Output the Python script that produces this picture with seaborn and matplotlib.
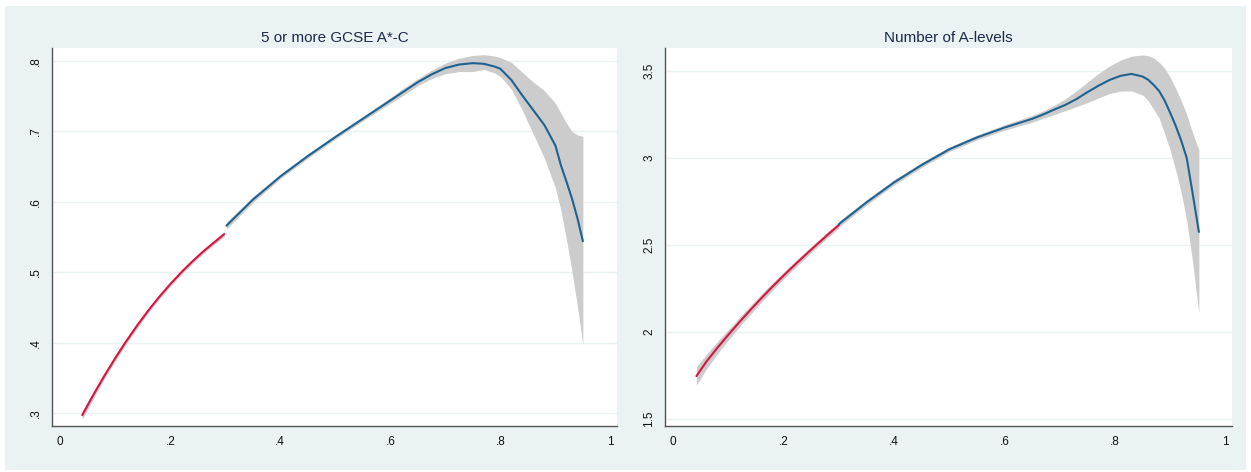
import numpy as np
import pandas as pd
import seaborn as sns
import matplotlib.pyplot as plt
from matplotlib.patches import Rectangle

# ---- left panel: 5 or more GCSE A*-C ----
gcse_red_x = [0.04, 0.06, 0.08, 0.10, 0.12, 0.14, 0.16, 0.18, 0.20, 0.22, 0.24, 0.26, 0.28, 0.298]
gcse_red_y = [0.297, 0.3255, 0.3525, 0.378, 0.402, 0.4245, 0.4455, 0.465, 0.483, 0.4998, 0.5152, 0.5295, 0.5425, 0.554]
gcse_red_lo = [0.291, 0.3205, 0.3485, 0.374, 0.398, 0.4205, 0.4425, 0.462, 0.480, 0.4968, 0.5122, 0.5265, 0.5395, 0.550]
gcse_red_hi = [0.303, 0.3305, 0.3565, 0.382, 0.406, 0.4285, 0.4485, 0.468, 0.486, 0.5028, 0.5182, 0.5325, 0.5455, 0.558]

gcse_blue_x = [0.302, 0.35, 0.40, 0.45, 0.50, 0.55, 0.60, 0.625, 0.65, 0.675, 0.70, 0.725, 0.75, 0.77,
               0.79, 0.80, 0.82, 0.84, 0.86, 0.88, 0.90, 0.91, 0.92, 0.93, 0.94, 0.95]
gcse_blue_y = [0.566, 0.603, 0.636, 0.665, 0.692, 0.718, 0.744, 0.757, 0.770, 0.781, 0.790, 0.795, 0.797, 0.796,
               0.792, 0.789, 0.773, 0.751, 0.730, 0.709, 0.680, 0.652, 0.629, 0.605, 0.577, 0.544]
gcse_blue_lo = [0.561, 0.599, 0.633, 0.662, 0.689, 0.715, 0.740, 0.752, 0.765, 0.775, 0.782, 0.785, 0.785, 0.788,
                0.783, 0.778, 0.760, 0.730, 0.696, 0.662, 0.620, 0.588, 0.547, 0.502, 0.452, 0.397]
gcse_blue_hi = [0.571, 0.607, 0.639, 0.668, 0.695, 0.721, 0.748, 0.762, 0.775, 0.787, 0.797, 0.804, 0.808, 0.809,
                0.807, 0.805, 0.798, 0.784, 0.770, 0.758, 0.740, 0.726, 0.712, 0.700, 0.695, 0.693]

# ---- right panel: Number of A-levels ----
alev_red_x = [0.042, 0.06, 0.08, 0.10, 0.12, 0.14, 0.16, 0.18, 0.20, 0.22, 0.24, 0.26, 0.28, 0.30]
alev_red_y = [1.747, 1.830, 1.910, 1.985, 2.058, 2.128, 2.196, 2.262, 2.325, 2.386, 2.445, 2.503, 2.560, 2.615]
alev_red_lo = [1.695, 1.788, 1.875, 1.955, 2.031, 2.103, 2.173, 2.241, 2.305, 2.367, 2.427, 2.486, 2.543, 2.598]
alev_red_hi = [1.800, 1.872, 1.945, 2.015, 2.085, 2.153, 2.219, 2.283, 2.345, 2.405, 2.463, 2.520, 2.577, 2.632]

alev_blue_x = [0.30, 0.35, 0.40, 0.45, 0.50, 0.55, 0.60, 0.65, 0.67, 0.69, 0.71, 0.73, 0.75, 0.77, 0.79,
               0.81, 0.83, 0.85, 0.86, 0.87, 0.88, 0.89, 0.90, 0.91, 0.92, 0.93, 0.94, 0.952]
alev_blue_y = [2.620, 2.745, 2.860, 2.960, 3.050, 3.118, 3.175, 3.225, 3.250, 3.278, 3.305, 3.338, 3.378, 3.415, 3.448,
               3.472, 3.483, 3.468, 3.450, 3.420, 3.385, 3.330, 3.260, 3.185, 3.100, 3.000, 2.810, 2.575]
alev_blue_lo = [2.603, 2.730, 2.845, 2.946, 3.037, 3.104, 3.160, 3.205, 3.228, 3.250, 3.272, 3.295, 3.318, 3.345, 3.370,
                3.384, 3.385, 3.362, 3.330, 3.280, 3.230, 3.140, 3.046, 2.930, 2.800, 2.640, 2.420, 2.109]
alev_blue_hi = [2.637, 2.760, 2.875, 2.974, 3.063, 3.132, 3.190, 3.245, 3.270, 3.303, 3.340, 3.385, 3.435, 3.485, 3.528,
                3.562, 3.585, 3.592, 3.588, 3.575, 3.550, 3.515, 3.465, 3.400, 3.330, 3.250, 3.150, 3.046]

titles = ["5 or more GCSE A*-C", "Number of A-levels"]
left_yticks = [0.3, 0.4, 0.5, 0.6, 0.7, 0.8]
left_ylabels = [".3", ".4", ".5", ".6", ".7", ".8"]
right_yticks = [1.5, 2.0, 2.5, 3.0, 3.5]
right_ylabels = ["1.5", "2", "2.5", "3", "3.5"]
xticks = [0, 0.2, 0.4, 0.6, 0.8, 1.0]
xlabels = ["0", ".2", ".4", ".6", ".8", "1"]

RED = "#d6163f"
BLUE = "#1f628f"
BAND = "#cccccc"
BG = "#eaf2f3"

sns.set_style("white")
plt.rcParams['font.family'] = ['Liberation Sans', 'DejaVu Sans']

fig = plt.figure(figsize=(12.51, 4.72), dpi=100, facecolor="white")
# light blue graph region, white margin around it
fig.patches.append(Rectangle((5 / 1251, 2 / 472), 1241 / 1251, 464 / 472,
                             transform=fig.transFigure, facecolor=BG, edgecolor="none", zorder=-10))

ax1 = fig.add_axes([52 / 1251, 46 / 472, 565 / 1251, 378 / 472])
ax2 = fig.add_axes([665 / 1251, 46 / 472, 567 / 1251, 378 / 472])

panels = [
    (ax1, gcse_red_x, gcse_red_y, gcse_red_lo, gcse_red_hi,
     gcse_blue_x, gcse_blue_y, gcse_blue_lo, gcse_blue_hi,
     (0.2815, 0.8185), left_yticks, left_ylabels),
    (ax2, alev_red_x, alev_red_y, alev_red_lo, alev_red_hi,
     alev_blue_x, alev_blue_y, alev_blue_lo, alev_blue_hi,
     (1.46, 3.632), right_yticks, right_ylabels),
]

for i, (ax, rx, ry, rlo, rhi, bx, by, blo, bhi, ylim, yt, yl) in enumerate(panels):
    ax.set_facecolor("white")
    for t in yt:
        ax.axhline(t, color=BG, lw=1.0, zorder=0)
    ax.fill_between(rx, rlo, rhi, color=BAND, lw=0, zorder=1)
    ax.fill_between(bx, blo, bhi, color=BAND, lw=0, zorder=1)
    red_df = pd.DataFrame({"x": rx, "y": ry})
    blue_df = pd.DataFrame({"x": bx, "y": by})
    sns.lineplot(data=red_df, x="x", y="y", ax=ax, color=RED, lw=1.5, sort=False, zorder=3)
    sns.lineplot(data=blue_df, x="x", y="y", ax=ax, color=BLUE, lw=1.5, sort=False, zorder=3)

    ax.set_xlim(-0.015, 1.012)
    ax.set_ylim(*ylim)
    ax.set_xticks(xticks)
    ax.set_xticklabels(xlabels)
    ax.set_yticks(yt)
    ax.set_yticklabels(yl, rotation=90, va="center")
    ax.set_xlabel("")
    ax.set_ylabel("")
    ax.set_title(titles[i], fontsize=11, color="#1c2a48", pad=4)

    for side in ["top", "right"]:
        ax.spines[side].set_visible(False)
    for side in ["left", "bottom"]:
        ax.spines[side].set_color("#555555")
        ax.spines[side].set_linewidth(1.0)
    ax.tick_params(axis="both", direction="out", length=4, width=0.8, color="#555555",
                   labelsize=8.5, labelcolor="#111111", pad=3)

fig.savefig("out.png", dpi=100, facecolor=fig.get_facecolor())
